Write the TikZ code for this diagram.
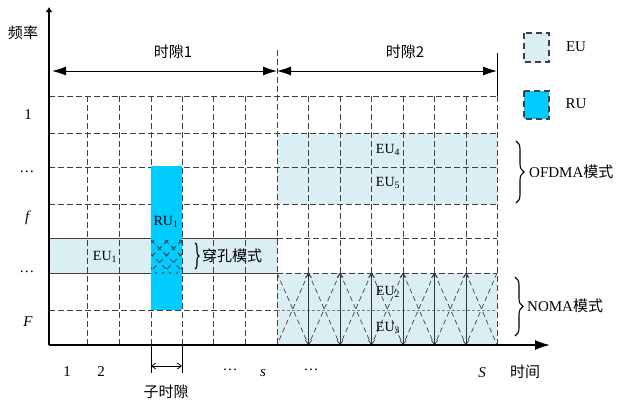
\documentclass[tikz,border=0pt]{standalone}
\usepackage{fontspec}
\setmainfont{Liberation Serif}
\newfontfamily\cjk{Noto Sans CJK SC}
\usetikzlibrary{arrows.meta,decorations.pathreplacing}
\definecolor{eucol}{HTML}{DAEEF3}
\definecolor{rucol}{HTML}{00CCFF}
\definecolor{gridc}{HTML}{404040}
\begin{document}
\begin{tikzpicture}[x=1pt,y=-1pt,
  gridline/.style={draw=gridc, line width=1pt, dash pattern=on 5.5pt off 3.5pt},
  fineline/.style={draw=gray, line width=0.6pt, dash pattern=on 3pt off 2pt},
  diagline/.style={draw=gridc, line width=0.7pt, dash pattern=on 5pt off 3.5pt},
  hatchline/.style={draw=gridc, line width=0.8pt, dash pattern=on 5pt off 4pt},
  solidline/.style={draw=gridc, line width=1pt},
  axis/.style={draw=black, line width=1.6pt},
  lbl/.style={font=\fontsize{15}{17}\selectfont, inner sep=0pt},
  sublbl/.style={font=\fontsize{14}{16}\selectfont, inner sep=0pt},
  bigtip/.style={{Latex[length=14pt,width=9pt]}-{Latex[length=14pt,width=9pt]}},
  barbs/.style={{Straight Barb[length=4pt,width=6pt]}-{Straight Barb[length=4pt,width=6pt]}},
  bracedeco/.style={decorate, decoration={brace, amplitude=#1}, line width=1.1pt},
  legendbox/.style={draw=gridc, line width=1.2pt, dash pattern=on 6pt off 4pt}]
\useasboundingbox (0,0) rectangle (620,402);

% fills
\fill[eucol] (277,133) rectangle (497,204);
\fill[eucol] (49,238) rectangle (277,273);
\fill[eucol] (277,273) rectangle (497,345);

% grid: vertical lines
\foreach \x in {87,119.5,151,182,213.5,245}
  \draw[gridline] (\x,96) -- (\x,345);
\draw[gridline] (277,50) -- (277,345);
\foreach \x in {308.5,340,371.5,403,434.5,466}
  \draw[gridline] (\x,96) -- (\x,273);
\draw[gridline] (497,96) -- (497,345);
% grid: horizontal lines
\foreach \y in {96,133,167,204}
  \draw[gridline] (49,\y) -- (497,\y);
\draw[solidline] (49,238) -- (277,238);
\draw[gridline] (277,238) -- (497,238);
\draw[solidline] (49,273) -- (277,273);
\draw[gridline] (277,273) -- (497,273);
\draw[gridline] (49,310) -- (277,310);
\draw[fineline] (277,310) -- (497,310);

% NOMA crossings and arrows
\foreach \a/\b in {277/308.5,308.5/340,340/371.5,371.5/403,403/434.5,434.5/466,466/497}{
  \draw[diagline] (\a,273) -- (\b,345);
  \draw[diagline] (\b,273) -- (\a,345);
}
\foreach \x in {308.5,340,371.5,403,434.5,466}
  \draw[barbs, line width=0.7pt, black!80] (\x,273) -- (\x,345);

% RU column
\fill[rucol] (151,166) rectangle (182,310);
\begin{scope}
  \clip (151,238) rectangle (182,273);
  \foreach \k in {-42,-28,...,42}{
    \draw[hatchline] (151+\k,240) -- ++(35,35);
    \draw[hatchline] (182-\k,240) -- ++(-35,35);
  }
\end{scope}

% axes
\draw[axis, -{Latex[length=5pt,width=7pt]}] (49,345) -- (49,7);
\draw[axis, -{Latex[length=15pt,width=10pt]}] (49,345) -- (550,345);

% time slot arrows
\draw[bigtip, line width=0.9pt] (52,71) -- (277,71);
\draw[bigtip, line width=0.9pt] (277,71) -- (497,71);
\draw[line width=0.9pt] (497,53) -- (497,96);

% sub-slot marker
\draw[line width=0.8pt] (151,345) -- (151,373);
\draw[line width=0.8pt] (182,345) -- (182,373);
\draw[barbs, line width=0.8pt] (151,366) -- (182,366);

% legend
\fill[eucol] (524,33) rectangle (549,62);
\draw[legendbox] (524,33) rectangle (549,62);
\fill[rucol] (524,91) rectangle (549,119);
\draw[legendbox] (524,91) rectangle (549,119);
\node[lbl] (legEU) at (576,47) {EU};
\node[lbl] (legRU) at (576,104) {RU};

% braces
\draw[bracedeco=4pt] (195,243) -- (195,269);
\draw[bracedeco=8pt] (516,141) -- (516,203);
\draw[bracedeco=8pt] (515,277) -- (515,336);

% labels
\node[lbl] (freq) at (23,33) {\cjk 频率};
\node[lbl] (slot1) at (173,52) {\cjk 时隙1};
\node[lbl] (slot2) at (405,52) {\cjk 时隙2};
\node[lbl] (r1) at (28,115) {1};
\node[lbl] (rdots1) at (27,172) {…};
\node[lbl] (rf) at (28,218) {\textit{f}};
\node[lbl] (rdots2) at (27,272) {…};
\node[lbl] (rF) at (28,322) {\textit{F}};

\node[sublbl] (eu4) at (388,150) {EU\textsubscript{4}};
\node[sublbl] (eu5) at (388,183) {EU\textsubscript{5}};
\node[sublbl] (eu2) at (388,292) {EU\textsubscript{2}};
\node[sublbl] (eu3) at (388,328) {EU\textsubscript{3}};
\node[sublbl] (ru1) at (166,222) {RU\textsubscript{1}};
\node[sublbl] (eu1) at (105,257) {EU\textsubscript{1}};

\node[lbl, anchor=west] (punct) at (202,256) {\cjk 穿孔模式};
\node[lbl, anchor=west] (ofdma) at (529,172) {OFDMA{\cjk 模式}};
\node[lbl, anchor=west] (noma) at (527,306) {NOMA{\cjk 模式}};

\node[lbl] (c1) at (67,372) {1};
\node[lbl] (c2) at (101,372) {2};
\node[lbl] (cdots1) at (230,370) {…};
\node[lbl] (cs) at (263,373) {\textit{s}};
\node[lbl] (cdots2) at (311,370) {…};
\node[lbl] (cS) at (482,373) {\textit{S}};
\node[lbl] (time) at (525,372) {\cjk 时间};
\node[lbl] (subslot) at (166,392) {\cjk 子时隙};
\end{tikzpicture}
\end{document}
